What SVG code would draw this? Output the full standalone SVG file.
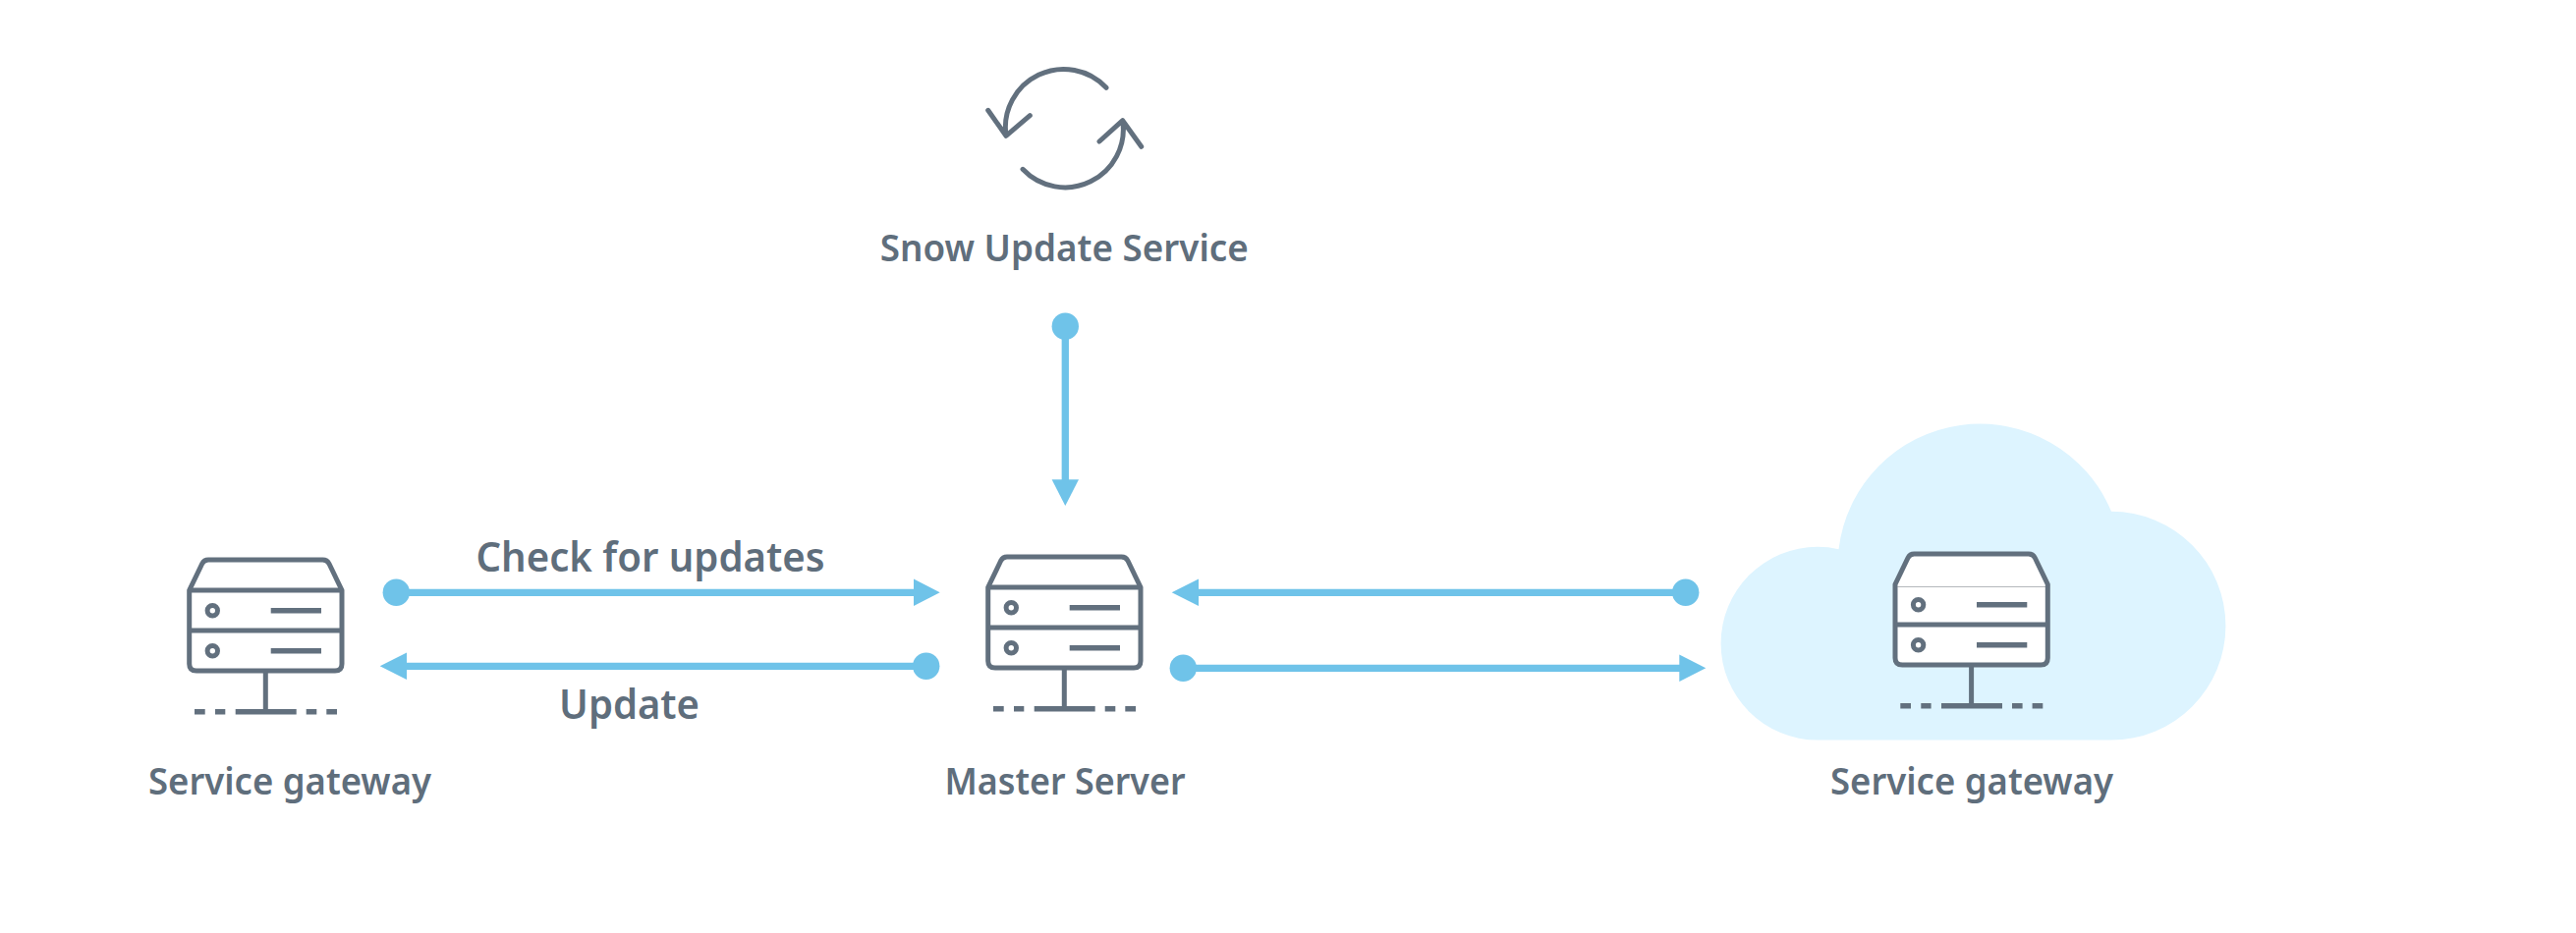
<svg xmlns="http://www.w3.org/2000/svg" width="2622" height="950" viewBox="0 0 2622 950">
<style>
.i{fill:none;stroke:#62707e;stroke-width:5;stroke-linejoin:round}
.d{fill:none;stroke:#62707e;stroke-width:5.6}
.r{stroke-linecap:round}
.t{font-family:"Noto Sans","Open Sans",sans-serif;font-weight:600;fill:#5f6e7c;font-size:37px;text-anchor:middle}
.b{font-size:41px}
.c{fill:none;stroke:#6fc3e9;stroke-width:7.300}
.k{fill:#6fc3e9}
</style>
<defs>
<path id="box" d="M212 570H328.500Q333 570 335 574L348 601V676Q348 683 341 683H200Q192.700 683 192.700 676V601L205.700 574Q207.700 570 212 570Z"/>
<g id="parts">
<path class="i" d="M192.700 642H348M270.300 683V725"/>
<circle class="i" cx="216.300" cy="621.700" r="5.200"/>
<circle class="i" cx="216.300" cy="662.700" r="5.200"/>
<path class="d" d="M275.700 621.700H327M275.700 662.700H327M198 724.700H208.700M219 724.700H229.300M239.700 724.700H301.700M311.700 724.700H322.300M332.300 724.700H343"/>
</g>
<g id="srv">
<use href="#box" class="i"/>
<path class="i" d="M192.700 601H348"/>
<use href="#parts"/>
</g>
<g id="srvc">
<use href="#box" fill="#fff"/>
<path d="M195 603.500H346" stroke="#b4b8bc" stroke-width="1" fill="none"/>
<use href="#box" class="i"/>
<use href="#parts"/>
</g>
</defs>
<g id="update-service">
<path class="i r" d="M1126 89.300A59.300 59.300 0 0 0 1024 138.300M1005.700 112.300L1024 138.300L1048.300 117.700M1041 172.300A59.300 59.300 0 0 0 1142.700 122.700M1119 144L1142.700 122.700L1161.700 149.300"/>
<text class="t" x="1083.300" y="265.500" textLength="375" lengthAdjust="spacingAndGlyphs">Snow Update Service</text>
</g>
<g id="gateway-left">
<use href="#srv"/>
<text class="t" x="295" y="809" textLength="288" lengthAdjust="spacingAndGlyphs">Service gateway</text>
</g>
<g id="master-server">
<use href="#srv" x="813" y="-3"/>
<text class="t" x="1084" y="809" textLength="245" lengthAdjust="spacingAndGlyphs">Master Server</text>
</g>
<g id="gateway-cloud">
<path fill="#ddf4ff" d="M1850 753.600A98 98 0 0 1 1850 556.800A98.400 98.400 0 0 1 1871.500 559.200A144.800 144.800 0 0 1 2149 520.800A116 116 0 0 1 2149 753.600Z"/>
<use href="#srvc" x="1736.300" y="-6"/>
<text class="t" x="2007" y="809" textLength="288" lengthAdjust="spacingAndGlyphs">Service gateway</text>
</g>
<g id="connectors">
<path class="c" d="M1084.300 332V492"/>
<circle class="k" cx="1084.300" cy="332.300" r="13.700"/>
<path class="k" d="M1070.600 488.300H1098L1084.300 515Z"/>
<path class="c" d="M403.300 603.300H935M410 678.300H942.700M1216 603.300H1715.700M1204.300 680.300H1715"/>
<circle class="k" cx="403.300" cy="603.300" r="13.700"/>
<path class="k" d="M930 589.600V617L956.700 603.300Z"/>
<circle class="k" cx="942.700" cy="678.300" r="13.700"/>
<path class="k" d="M414 664.600V692L386.700 678.300Z"/>
<path class="k" d="M1220 589.600V617L1192.700 603.300Z"/>
<circle class="k" cx="1715.700" cy="603.300" r="13.700"/>
<circle class="k" cx="1204.300" cy="680.300" r="13.700"/>
<path class="k" d="M1709.300 666.600V694L1736.300 680.300Z"/>
</g>
<text class="t b" x="662" y="581.500" textLength="355" lengthAdjust="spacingAndGlyphs">Check for updates</text>
<text class="t b" x="640.500" y="731.500" textLength="143" lengthAdjust="spacingAndGlyphs">Update</text>
</svg>
